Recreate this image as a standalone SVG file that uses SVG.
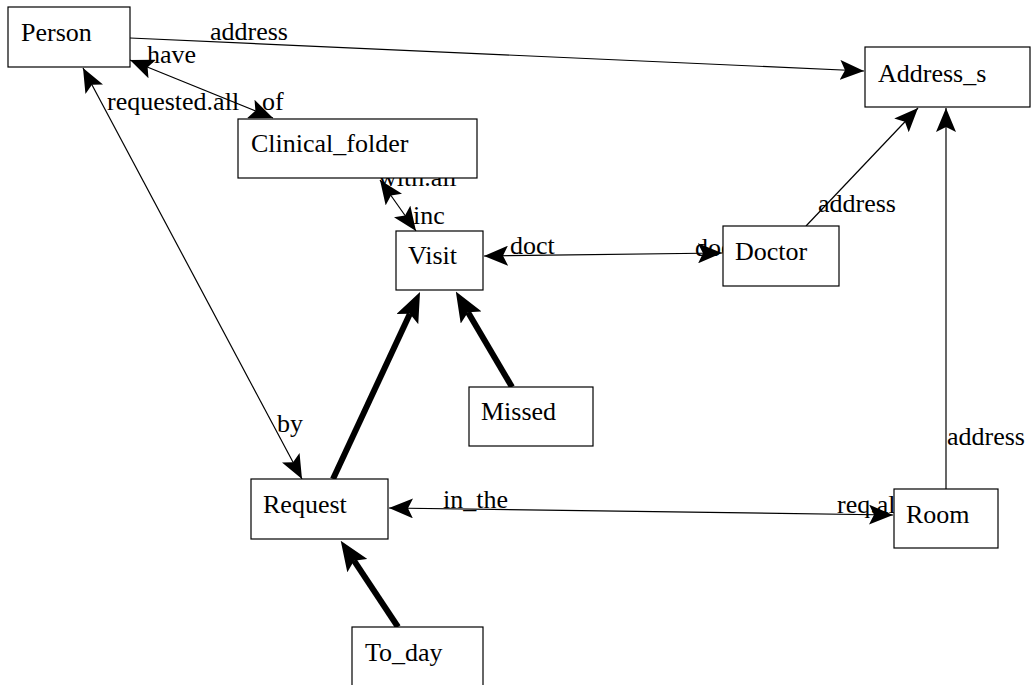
<svg xmlns="http://www.w3.org/2000/svg" width="1031" height="685" viewBox="0 0 1031 685">
<style>
text{font-family:"Liberation Serif","Times New Roman",serif;font-size:26px;fill:#000}
.box{fill:#fff;stroke:#000;stroke-width:1.2}
.thin{stroke:#000;stroke-width:1.2;fill:none}
.thick{stroke:#000;stroke-width:6;fill:none}
.a1{marker-end:url(#ah)}
.a2{marker-start:url(#ah);marker-end:url(#ah)}
.a3{marker-end:url(#ahb)}
</style>
<defs>
<marker id="ah" markerUnits="userSpaceOnUse" viewBox="0 0 24 20" refX="24" refY="10" markerWidth="24" markerHeight="20" orient="auto-start-reverse">
<path d="M0,0 L24,10 L0,20 L5,10 Z" fill="#000"/>
</marker>
<marker id="ahb" markerUnits="userSpaceOnUse" viewBox="0 0 30 24" refX="6" refY="12" markerWidth="30" markerHeight="24" orient="auto">
<path d="M0,0 L30,12 L0,24 L6,12 Z" fill="#000"/>
</marker>
</defs>
<g id="connectors">
<line class="thin a1" x1="130" y1="38" x2="864" y2="71"/>
<text x="210" y="40">address</text>
<line class="thin a2" x1="130" y1="60" x2="273" y2="118"/>
<text x="147" y="63">have</text>
<text x="262" y="110">of</text>
<line class="thin a2" x1="83" y1="68" x2="302" y2="479"/>
<text x="107" y="110">requested.all</text>
<text x="277" y="432">by</text>
<line class="thin a2" x1="380" y1="180" x2="416" y2="231"/>
<text x="378" y="186">with.all</text>
<text x="413" y="224">inc</text>
<line class="thin a2" x1="484" y1="256" x2="722" y2="253"/>
<text x="510" y="254">doct</text>
<text x="695" y="256">doct</text>
<line class="thin a1" x1="806" y1="226" x2="918" y2="108"/>
<text x="818" y="212">address</text>
<line class="thin a1" x1="946" y1="489" x2="946" y2="108"/>
<text x="947" y="445">address</text>
<line class="thin a2" x1="389" y1="508" x2="893" y2="515"/>
<text x="443" y="508">in_the</text>
<text x="837" y="513">req.all</text>
<line class="thick a3" x1="333" y1="479" x2="409.9" y2="313.7"/>
<line class="thick a3" x1="512" y1="387" x2="468" y2="312.3"/>
<line class="thick a3" x1="398" y1="627" x2="354" y2="560.7"/>
</g>
<g id="Person"><rect class="box" x="8" y="7" width="122" height="60"/><text x="21" y="41">Person</text></g>
<g id="Address_s"><rect class="box" x="865" y="47" width="165" height="60"/><text x="878" y="82">Address_s</text></g>
<g id="Clinical_folder"><rect class="box" x="238" y="119" width="239" height="59"/><text x="251" y="152">Clinical_folder</text></g>
<g id="Visit"><rect class="box" x="396" y="231" width="87" height="59"/><text x="408" y="264">Visit</text></g>
<g id="Doctor"><rect class="box" x="723" y="226" width="116" height="60"/><text x="735" y="260">Doctor</text></g>
<g id="Missed"><rect class="box" x="469" y="387" width="124" height="59"/><text x="481" y="420">Missed</text></g>
<g id="Request"><rect class="box" x="251" y="479" width="137" height="60"/><text x="263" y="513">Request</text></g>
<g id="Room"><rect class="box" x="894" y="489" width="104" height="59"/><text x="906" y="523">Room</text></g>
<g id="To_day"><rect class="box" x="352" y="627" width="131" height="60"/><text x="365" y="661">To_day</text></g>
</svg>
